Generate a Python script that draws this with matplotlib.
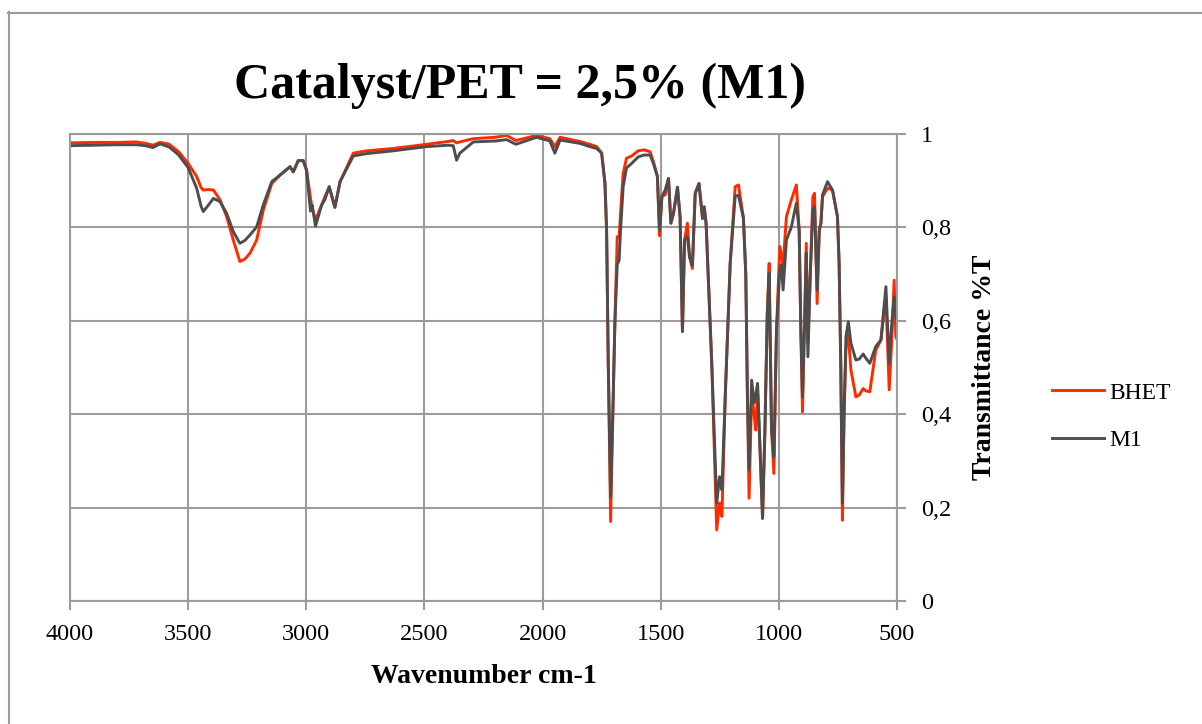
import matplotlib
matplotlib.use("Agg")
import matplotlib.pyplot as plt
from matplotlib.lines import Line2D
from matplotlib.ticker import FuncFormatter

# wavenumber (cm-1) and transmittance
wavenumber = [
    4000, 3900, 3800, 3720, 3680, 3649, 3619, 3580, 3540, 3500,
    3464, 3445, 3436, 3414, 3393, 3365, 3337, 3309, 3281, 3260,
    3238, 3210, 3182, 3146, 3111, 3069, 3055, 3034, 3013, 2999,
    2982, 2975, 2961, 2935, 2921, 2903, 2879, 2857, 2801, 2745,
    2632, 2490, 2400, 2378, 2364, 2350, 2293, 2200, 2152, 2113,
    2025, 1969, 1948, 1926, 1843, 1800, 1771, 1750, 1736, 1729,
    1722, 1712, 1701, 1694, 1684, 1676, 1670, 1659, 1645, 1623,
    1595, 1570, 1545, 1531, 1514, 1505, 1495, 1481, 1467, 1457,
    1446, 1429, 1418, 1408, 1399, 1387, 1378, 1366, 1354, 1338,
    1323, 1316, 1308, 1284, 1263, 1251, 1241, 1227, 1206, 1185,
    1171, 1150, 1140, 1133, 1126, 1115, 1105, 1098, 1090, 1080,
    1069, 1059, 1049, 1041, 1031, 1021, 1010, 996, 989, 982,
    968, 947, 926, 914, 907, 900, 891, 884, 877, 867,
    856, 849, 838, 829, 822, 815, 794, 773, 752, 745,
    738, 731, 724, 716, 706, 695, 674, 660, 643, 632,
    615, 590, 568, 547, 533, 522, 512, 505, 500,
]

bhet = [
    0.981, 0.982, 0.982, 0.983, 0.980, 0.976, 0.982, 0.978, 0.962, 0.937,
    0.909, 0.885, 0.880, 0.881, 0.880, 0.859, 0.823, 0.773, 0.727, 0.732,
    0.745, 0.773, 0.837, 0.894, 0.912, 0.930, 0.919, 0.943, 0.943, 0.923,
    0.862, 0.840, 0.816, 0.848, 0.866, 0.887, 0.843, 0.898, 0.959, 0.964,
    0.969, 0.978, 0.984, 0.986, 0.981, 0.983, 0.990, 0.993, 0.997, 0.986,
    0.997, 0.990, 0.973, 0.993, 0.984, 0.978, 0.973, 0.959, 0.895, 0.794,
    0.509, 0.170, 0.437, 0.595, 0.780, 0.780, 0.830, 0.915, 0.948, 0.953,
    0.964, 0.966, 0.962, 0.941, 0.909, 0.782, 0.866, 0.870, 0.905, 0.809,
    0.830, 0.886, 0.823, 0.577, 0.773, 0.809, 0.737, 0.712, 0.873, 0.894,
    0.819, 0.844, 0.809, 0.509, 0.152, 0.210, 0.181, 0.437, 0.723, 0.887,
    0.891, 0.820, 0.700, 0.437, 0.220, 0.445, 0.400, 0.366, 0.450, 0.330,
    0.177, 0.366, 0.616, 0.723, 0.366, 0.273, 0.580, 0.759, 0.740, 0.720,
    0.823, 0.859, 0.891, 0.794, 0.580, 0.405, 0.600, 0.766, 0.552, 0.700,
    0.866, 0.873, 0.637, 0.794, 0.809, 0.866, 0.884, 0.880, 0.823, 0.723,
    0.509, 0.173, 0.400, 0.540, 0.570, 0.495, 0.437, 0.441, 0.455, 0.450,
    0.448, 0.537, 0.559, 0.652, 0.452, 0.560, 0.687, 0.566, 0.560,
]

m1 = [
    0.975, 0.976, 0.977, 0.977, 0.975, 0.971, 0.979, 0.972, 0.955, 0.928,
    0.884, 0.845, 0.834, 0.848, 0.862, 0.855, 0.830, 0.791, 0.766, 0.772,
    0.784, 0.801, 0.848, 0.898, 0.912, 0.930, 0.919, 0.943, 0.943, 0.923,
    0.835, 0.848, 0.803, 0.848, 0.860, 0.887, 0.843, 0.898, 0.953, 0.958,
    0.964, 0.973, 0.976, 0.975, 0.944, 0.959, 0.983, 0.985, 0.988, 0.978,
    0.993, 0.985, 0.959, 0.987, 0.980, 0.973, 0.969, 0.959, 0.895, 0.794,
    0.509, 0.223, 0.437, 0.595, 0.720, 0.730, 0.794, 0.887, 0.927, 0.937,
    0.951, 0.955, 0.955, 0.937, 0.909, 0.794, 0.866, 0.880, 0.905, 0.809,
    0.830, 0.886, 0.823, 0.577, 0.773, 0.780, 0.737, 0.719, 0.873, 0.894,
    0.819, 0.844, 0.809, 0.509, 0.209, 0.266, 0.238, 0.437, 0.723, 0.866,
    0.869, 0.820, 0.700, 0.437, 0.280, 0.473, 0.424, 0.440, 0.466, 0.330,
    0.177, 0.366, 0.616, 0.702, 0.366, 0.309, 0.580, 0.709, 0.720, 0.666,
    0.773, 0.801, 0.852, 0.794, 0.580, 0.437, 0.600, 0.745, 0.523, 0.700,
    0.837, 0.844, 0.666, 0.794, 0.809, 0.870, 0.898, 0.880, 0.823, 0.723,
    0.509, 0.209, 0.400, 0.566, 0.598, 0.552, 0.516, 0.518, 0.529, 0.520,
    0.509, 0.545, 0.559, 0.673, 0.509, 0.595, 0.652, 0.609, 0.600,
]

x_ticks = [4000, 3500, 3000, 2500, 2000, 1500, 1000, 500]
y_ticks = [0, 0.2, 0.4, 0.6, 0.8, 1.0]

plt.rcParams['font.family'] = ['Liberation Serif', 'DejaVu Serif']
grid_color = '#9c9c9c'

fig = plt.figure(figsize=(12.02, 7.24), dpi=100)
ax = fig.add_axes([70 / 1202, 123 / 724, 827 / 1202, 467 / 724])

ax.plot(wavenumber, bhet, color='#ff2a00', lw=2.1, label='BHET')
ax.plot(wavenumber, m1, color='#4d4d4d', lw=2.1, label='M1')

ax.set_xlim(4000, 500)
ax.set_ylim(0, 1)
ax.set_xticks(x_ticks)
ax.set_yticks(y_ticks)
ax.yaxis.tick_right()
ax.yaxis.set_major_formatter(FuncFormatter(lambda v, p: f'{v:g}'.replace('.', ',')))
ax.grid(True, color=grid_color, lw=1.5)
ax.set_axisbelow(True)
for s in ax.spines.values():
    s.set_color(grid_color)
    s.set_linewidth(1.5)
ax.tick_params(axis='x', direction='out', length=6.5, width=1.5, color=grid_color,
               labelsize=17.5, pad=10)
ax.tick_params(axis='y', direction='out', length=6.5, width=1.5, color=grid_color,
               labelsize=17.5, pad=11)

ax.set_ylabel('Transmittance %T', fontsize=20, fontweight='bold')
ax.yaxis.set_label_position('right')
ax.yaxis.set_label_coords(1.106, 0.5)
ax.yaxis.label.set_va('center')

ax.set_xlabel('Wavenumber cm-1', fontsize=20, fontweight='bold')
ax.xaxis.set_label_coords(0.5, -0.161)
ax.xaxis.label.set_va('center')

fig.text(520 / 1202, 0.881, 'Catalyst/PET = 2,5% (M1)', fontsize=36, fontweight='bold',
         ha='center', va='center')

ax.legend(loc='center left', bbox_to_anchor=(1052 / 1202, 0.4247),
          bbox_transform=fig.transFigure, frameon=False, fontsize=17,
          handlelength=2.2, handletextpad=0.22, labelspacing=1.1,
          borderpad=0, borderaxespad=0)

# outer chart border (only top and left visible)
fig.add_artist(Line2D([8.5 / 1202, 8.5 / 1202], [1 - 12 / 724, 0], transform=fig.transFigure,
                      color='#9a9a9a', lw=1.5))
fig.add_artist(Line2D([8 / 1202, 1], [1 - 12.5 / 724, 1 - 12.5 / 724], transform=fig.transFigure,
                      color='#9a9a9a', lw=1.5))

plt.savefig('out.png', dpi=100)
plt.close()
